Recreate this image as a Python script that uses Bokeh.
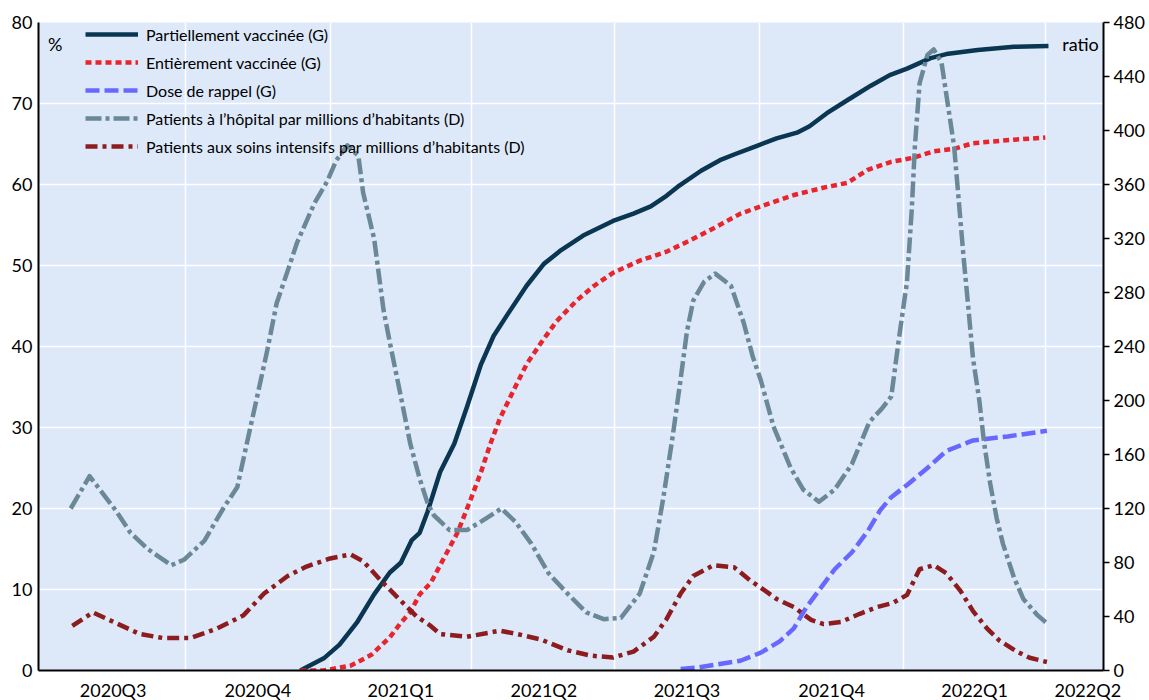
import pandas as pd
from bokeh.plotting import figure
from bokeh.models import Range1d, LinearAxis, FixedTicker, Legend, LegendItem, Label
from bokeh.embed import file_html
from bokeh.resources import INLINE

# ---------------- data ----------------
quarter_starts = ["2020-07-01", "2020-10-01", "2021-01-01", "2021-04-01", "2021-07-01",
                  "2021-10-01", "2022-01-01", "2022-04-01", "2022-07-01"]
quarter_labels = ["2020Q3", "2020Q4", "2021Q1", "2021Q2", "2021Q3", "2021Q4", "2022Q1", "2022Q2"]
axis_end = "2022-05-08"

part_dates = ["2020-12-13", "2020-12-28", "2021-01-07", "2021-01-18", "2021-01-29", "2021-02-08",
              "2021-02-15", "2021-02-22", "2021-02-27", "2021-03-04", "2021-03-12", "2021-03-21",
              "2021-03-29", "2021-04-07", "2021-04-15", "2021-04-24", "2021-05-06", "2021-05-17",
              "2021-05-28", "2021-06-11", "2021-06-30", "2021-07-13", "2021-07-24", "2021-08-03",
              "2021-08-10", "2021-08-25", "2021-09-06", "2021-09-15", "2021-09-30", "2021-10-12",
              "2021-10-25", "2021-11-02", "2021-11-13", "2021-11-26", "2021-12-11", "2021-12-23",
              "2022-01-03", "2022-01-18", "2022-01-28", "2022-02-17", "2022-03-12", "2022-04-03"]
part_vax = [0.0, 1.5, 3.2, 5.9, 9.4, 12.1, 13.3, 16.1, 17.0, 19.6,
            24.5, 28.0, 32.5, 37.8, 41.3, 44.0, 47.5, 50.2, 51.9, 53.7,
            55.5, 56.4, 57.3, 58.6, 59.7, 61.7, 63.0, 63.7, 64.8, 65.7,
            66.4, 67.2, 68.8, 70.4, 72.2, 73.5, 74.3, 75.6, 76.1, 76.6,
            77.0, 77.1]

full_dates = ["2020-12-13", "2020-12-28", "2021-01-14", "2021-01-27", "2021-02-08", "2021-02-15",
              "2021-02-21", "2021-02-27", "2021-03-06", "2021-03-12", "2021-03-23", "2021-03-31",
              "2021-04-07", "2021-04-13", "2021-04-19", "2021-04-28", "2021-05-06", "2021-05-15",
              "2021-05-25", "2021-06-07", "2021-06-18", "2021-06-30", "2021-07-17", "2021-08-03",
              "2021-08-18", "2021-09-02", "2021-09-19", "2021-10-02", "2021-10-23", "2021-11-13",
              "2021-11-26", "2021-12-09", "2021-12-24", "2022-01-07", "2022-01-20", "2022-02-02",
              "2022-02-14", "2022-03-10", "2022-04-01"]
full_vax = [0.0, 0.0, 0.6, 1.9, 4.1, 5.9, 7.2, 9.4, 10.8, 13.0,
            17.0, 20.9, 24.5, 28.0, 31.1, 34.7, 37.8, 40.4, 43.1, 45.7,
            47.5, 49.1, 50.6, 51.7, 53.1, 54.6, 56.4, 57.3, 58.7, 59.7,
            60.2, 61.8, 62.8, 63.3, 64.1, 64.4, 65.1, 65.5, 65.8]

boost_dates = ["2021-08-12", "2021-08-24", "2021-09-06", "2021-09-19", "2021-10-02", "2021-10-14",
               "2021-10-23", "2021-10-31", "2021-11-08", "2021-11-18", "2021-11-29", "2021-12-09",
               "2021-12-17", "2021-12-24", "2022-01-03", "2022-01-16", "2022-01-28", "2022-02-14",
               "2022-03-08", "2022-04-02"]
booster = [0.2, 0.4, 0.8, 1.2, 2.2, 3.6, 5.2, 7.8, 9.9, 12.5,
           14.6, 17.2, 19.8, 21.4, 22.9, 25.0, 27.1, 28.4, 28.9, 29.6]

hosp_dates = ["2020-07-20", "2020-08-01", "2020-08-18", "2020-08-27", "2020-09-07", "2020-09-22",
              "2020-09-30", "2020-10-13", "2020-10-25", "2020-11-03", "2020-11-09", "2020-11-16",
              "2020-11-22", "2020-11-28", "2020-12-05", "2020-12-11", "2020-12-22", "2020-12-30",
              "2021-01-05", "2021-01-12", "2021-01-19", "2021-01-22", "2021-01-29", "2021-02-04",
              "2021-02-08", "2021-02-15", "2021-02-21", "2021-02-27", "2021-03-04", "2021-03-08",
              "2021-03-18", "2021-03-29", "2021-04-08", "2021-04-20", "2021-04-29", "2021-05-09",
              "2021-05-20", "2021-06-01", "2021-06-13", "2021-06-24", "2021-07-05", "2021-07-17",
              "2021-07-26", "2021-08-01", "2021-08-07", "2021-08-12", "2021-08-16", "2021-08-20",
              "2021-08-27", "2021-09-03", "2021-09-13", "2021-09-21", "2021-09-27", "2021-10-02",
              "2021-10-10", "2021-10-21", "2021-10-29", "2021-11-08", "2021-11-18", "2021-11-29",
              "2021-12-10", "2021-12-18", "2021-12-24", "2021-12-29", "2022-01-03", "2022-01-06",
              "2022-01-08", "2022-01-11", "2022-01-16", "2022-01-20", "2022-01-25", "2022-01-29",
              "2022-02-02", "2022-02-05", "2022-02-08", "2022-02-11", "2022-02-14", "2022-02-18",
              "2022-02-21", "2022-02-25", "2022-03-01", "2022-03-05", "2022-03-12", "2022-03-18",
              "2022-03-27", "2022-04-03"]
hospital = [120, 144, 118, 102, 90, 78, 82, 96, 120, 136,
            168, 205, 237, 272, 296, 317, 346, 362, 378, 389,
            381, 354, 320, 267, 243, 203, 168, 142, 124, 115,
            104, 104, 111, 120, 110, 94, 72, 57, 43, 38,
            39, 57, 88, 128, 174, 216, 251, 274, 288, 294,
            285, 258, 232, 215, 181, 150, 134, 125, 134, 153,
            184, 194, 203, 247, 288, 341, 388, 435, 456, 460,
            450, 419, 388, 347, 306, 269, 231, 200, 169, 138,
            113, 94, 69, 53, 41, 34]

icu_dates = ["2020-07-21", "2020-08-03", "2020-08-18", "2020-09-02", "2020-09-17", "2020-10-04",
             "2020-10-21", "2020-11-07", "2020-11-20", "2020-12-05", "2020-12-17", "2021-01-01",
             "2021-01-14", "2021-01-22", "2021-02-02", "2021-02-13", "2021-02-25", "2021-03-06",
             "2021-03-12", "2021-03-29", "2021-04-19", "2021-04-30", "2021-05-15", "2021-06-01",
             "2021-06-16", "2021-06-30", "2021-07-13", "2021-07-26", "2021-08-03", "2021-08-12",
             "2021-08-20", "2021-09-02", "2021-09-15", "2021-09-25", "2021-10-06", "2021-10-12",
             "2021-10-23", "2021-11-03", "2021-11-11", "2021-11-22", "2021-12-04", "2021-12-15",
             "2021-12-25", "2022-01-03", "2022-01-11", "2022-01-20", "2022-01-28", "2022-02-06",
             "2022-02-14", "2022-02-23", "2022-03-03", "2022-03-14", "2022-03-22", "2022-04-02"]
icu = [33, 43, 35, 27, 24, 24, 31, 41, 57, 70,
       77, 83, 86, 81, 67, 54, 40, 33, 27, 25,
       29.5, 27, 23, 15, 11, 9.6, 14, 25, 38, 57,
       70, 78, 76.5, 67, 58, 53, 47, 37.5, 34.4, 36,
       42, 47, 50, 56, 75, 78, 72, 59, 44, 31,
       22, 14, 9.4, 6.3]

series_names = ["Partiellement vaccinée (G)", "Entièrement vaccinée (G)", "Dose de rappel (G)",
                "Patients à l\u2019hôpital par millions d\u2019habitants (D)",
                "Patients aux soins intensifs par millions d\u2019habitants (D)"]

# ---------------- helpers ----------------
START = pd.Timestamp(quarter_starts[0])


def to_days(ds):
    return [(pd.Timestamp(d) - START).days for d in ds]


q_days = to_days(quarter_starts)
x_end = to_days([axis_end])[0]
label_ticks = []
for i in range(len(quarter_labels)):
    mid = int(round((q_days[i] + q_days[i + 1]) / 2))
    label_ticks.append(min(mid, x_end - 10))

FONT = "Lato"
BG = "#dde9f9"

p = figure(frame_width=1065, frame_height=648,
           min_border_left=38, min_border_right=44, min_border_top=22, min_border_bottom=30,
           x_range=Range1d(-1.5, x_end), y_range=Range1d(0, 80),
           output_backend="svg", toolbar_location=None, tools="")
p.extra_y_ranges = {"ratio": Range1d(0, 480)}
p.background_fill_color = BG
p.border_fill_color = "white"
p.outline_line_color = None

# grids
p.xgrid.ticker = FixedTicker(ticks=q_days[1:-1])
p.ygrid.ticker = FixedTicker(ticks=list(range(10, 80, 10)))
p.xgrid.grid_line_color = "white"
p.ygrid.grid_line_color = "white"
p.xgrid.grid_line_width = 1.5
p.ygrid.grid_line_width = 1.5


def style_axis(ax):
    ax.axis_line_color = "black"
    ax.axis_line_width = 2
    ax.major_label_text_font = FONT
    ax.major_label_text_font_size = "18px"
    ax.major_label_text_color = "black"
    ax.minor_tick_line_color = None
    ax.major_tick_line_color = "black"
    ax.major_tick_line_width = 1.5


# bottom axis
xa = p.xaxis[0]
style_axis(xa)
xa.ticker = FixedTicker(ticks=label_ticks)
xa.major_label_overrides = {t: lab for t, lab in zip(label_ticks, quarter_labels)}
xa.major_tick_out = 0
xa.major_tick_in = 0
xa.major_label_standoff = 8

# left axis
ya = p.yaxis[0]
style_axis(ya)
ya.ticker = FixedTicker(ticks=list(range(0, 81, 10)))
ya.major_tick_out = 0
ya.major_tick_in = 0
ya.major_label_standoff = 6

# right axis
ra = LinearAxis(y_range_name="ratio", ticker=FixedTicker(ticks=list(range(0, 481, 40))))
style_axis(ra)
ra.major_tick_out = 6
ra.major_tick_in = 0
ra.major_label_standoff = 4
p.add_layout(ra, "right")

# lines
r1 = p.line(to_days(part_dates), part_vax, line_color="#0b3652", line_width=4.5, line_join="round")
r2 = p.line(to_days(full_dates), full_vax, line_color="#e8242c", line_width=4.5,
            line_dash="6 4", line_join="round")
r3 = p.line(to_days(boost_dates), booster, line_color="#6868ff", line_width=4.5,
            line_dash="14 5", line_join="round")
r4 = p.line(to_days(hosp_dates), hospital, line_color="#6a8898", line_width=4.5,
            line_dash="16 4 4 4", line_join="round", y_range_name="ratio")
r5 = p.line(to_days(icu_dates), icu, line_color="#8c1c1e", line_width=4.5,
            line_dash="12 5 4 5", line_join="round", y_range_name="ratio")

legend = Legend(items=[LegendItem(label=n, renderers=[r]) for n, r in
                       zip(series_names, [r1, r2, r3, r4, r5])],
                location=(47, 514), orientation="vertical",
                glyph_width=53, glyph_height=20, label_height=20, spacing=8,
                padding=0, margin=0, label_standoff=8,
                background_fill_alpha=0, border_line_color=None,
                label_text_font=FONT, label_text_font_size="16px", label_text_color="black")
p.add_layout(legend)

p.add_layout(Label(x=9.2, y=77.4, text="%", text_font=FONT, text_font_size="18px",
                   text_align="center", text_baseline="middle", text_color="black"))
p.add_layout(Label(x=673, y=77.3, text="ratio", text_font=FONT, text_font_size="18px",
                   text_align="right", text_baseline="middle", text_color="black"))

open("out.html", "w").write(file_html(p, INLINE))
